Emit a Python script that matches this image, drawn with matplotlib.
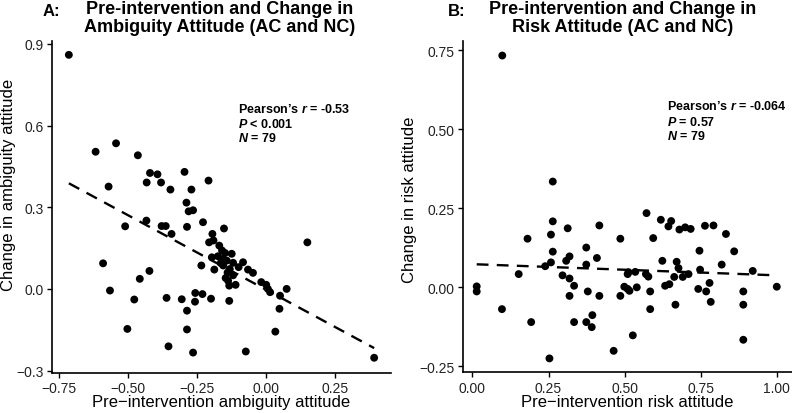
import numpy as np
import matplotlib
matplotlib.use("Agg")
import matplotlib.pyplot as plt
from matplotlib.ticker import FixedLocator, FuncFormatter

# ---------------- data ----------------
amb_pre = [-0.715, -0.618, -0.544, -0.465, -0.421, -0.394, -0.433, -0.381, -0.347, -0.296,
           -0.271, -0.209, -0.571, -0.289, -0.281, -0.265, -0.229, -0.195, -0.153, -0.511,
           -0.434, -0.379, -0.364, -0.343, -0.287, -0.207, -0.191, -0.170, -0.160, -0.149,
           -0.125, -0.197, -0.156, -0.143, -0.120, -0.084, -0.156, -0.132, -0.235, -0.188,
           -0.066, -0.048, -0.147, -0.138, -0.134, -0.111, -0.018, 0.000, 0.006, 0.014,
           0.074, 0.050, 0.048, 0.033, 0.149, 0.391, -0.591, -0.423, -0.458, -0.566,
           -0.478, -0.361, -0.306, -0.257, -0.231, -0.258, -0.200, -0.134, -0.287, -0.503,
           -0.287, -0.354, -0.265, -0.074, -0.175, -0.165, -0.140, -0.120, -0.100]
amb_change = [0.860, 0.504, 0.535, 0.491, 0.426, 0.421, 0.391, 0.391, 0.365, 0.430,
              0.365, 0.398, 0.376, 0.317, 0.285, 0.289, 0.245, 0.202, 0.222, 0.230,
              0.251, 0.231, 0.231, 0.202, 0.228, 0.171, 0.178, 0.159, 0.141, 0.132,
              0.129, 0.116, 0.110, 0.104, 0.096, 0.098, 0.086, 0.073, 0.086, 0.071,
              0.071, 0.059, 0.040, 0.030, 0.012, 0.015, 0.025, 0.015, 0.000, -0.012,
              0.000, -0.025, -0.073, -0.157, 0.171, -0.253, 0.094, 0.066, 0.037, -0.006,
              -0.039, -0.033, -0.038, -0.015, -0.019, -0.047, -0.036, -0.044, -0.080, -0.147,
              -0.149, -0.211, -0.234, -0.230, 0.120, 0.095, 0.060, 0.050, 0.080]

risk_pre = [0.098, 0.264, 0.264, 0.258, 0.313, 0.417, 0.181, 0.486, 0.374, 0.264,
            0.409, 0.319, 0.308, 0.258, 0.239, 0.374, 0.152, 0.296, 0.319, 0.334,
            0.014, 0.014, 0.510, 0.499, 0.510, 0.379, 0.319, 0.417, 0.486, 0.097,
            0.193, 0.334, 0.374, 0.394, 0.392, 0.464, 0.253, 0.572, 0.619, 0.653,
            0.644, 0.680, 0.699, 0.717, 0.764, 0.792, 0.833, 0.594, 0.746, 0.860,
            0.624, 0.671, 0.677, 0.819, 0.748, 0.921, 0.513, 0.535, 0.570, 0.578,
            0.663, 0.691, 0.710, 0.633, 0.647, 0.516, 0.540, 0.584, 0.742, 0.768,
            0.779, 0.890, 1.000, 0.667, 0.584, 0.783, 0.890, 0.527, 0.890]
risk_change = [0.734, 0.335, 0.209, 0.167, 0.187, 0.196, 0.154, 0.154, 0.126, 0.113,
               0.093, 0.098, 0.084, 0.079, 0.067, 0.072, 0.042, 0.038, 0.028, 0.005,
               0.003, -0.013, 0.042, 0.002, -0.005, -0.013, -0.027, -0.027, -0.027, -0.069,
               -0.110, -0.110, -0.110, -0.088, -0.126, -0.201, -0.225, 0.235, 0.214, 0.210,
               0.193, 0.183, 0.190, 0.185, 0.195, 0.196, 0.169, 0.156, 0.116, 0.114,
               0.084, 0.081, 0.061, 0.072, 0.056, 0.052, 0.048, 0.049, 0.042, 0.034,
               0.033, 0.033, 0.042, 0.005, 0.010, -0.011, 0.000, -0.013, -0.005, -0.013,
               0.014, -0.013, 0.002, -0.055, -0.069, -0.046, -0.055, -0.152, -0.166]

amb_xticks = [-0.75, -0.50, -0.25, 0.00, 0.25]
amb_yticks = [-0.3, 0.0, 0.3, 0.6, 0.9]
risk_xticks = [0.00, 0.25, 0.50, 0.75, 1.00]
risk_yticks = [-0.25, 0.00, 0.25, 0.50, 0.75]

# ---------------- style ----------------
plt.rcParams['font.family'] = ['Liberation Sans', 'DejaVu Sans']
plt.rcParams['mathtext.fontset'] = 'custom'
plt.rcParams['mathtext.rm'] = 'Liberation Sans:bold'
plt.rcParams['mathtext.bf'] = 'Liberation Sans:bold'
plt.rcParams['mathtext.it'] = 'Liberation Sans:bold:italic'
plt.rcParams['mathtext.bfit'] = 'Liberation Sans:bold:italic'

W, H = 792, 414
fig = plt.figure(figsize=(W / 100, H / 100), dpi=100)


def px_axes(x0, y0, x1, y1):
    return fig.add_axes([x0 / W, 1 - y1 / H, (x1 - x0) / W, (y1 - y0) / H])


def fmt(dec):
    def f(v, pos):
        s = f"{v:.{dec}f}"
        return s.replace("-", "\u2212")
    return FuncFormatter(f)


def style(ax, xt, yt, xdec, ydec):
    for s in ['top', 'right']:
        ax.spines[s].set_visible(False)
    for s in ['left', 'bottom']:
        ax.spines[s].set_linewidth(1.2)
        ax.spines[s].set_color('black')
    ax.xaxis.set_major_locator(FixedLocator(xt))
    ax.yaxis.set_major_locator(FixedLocator(yt))
    ax.xaxis.set_major_formatter(fmt(xdec))
    ax.yaxis.set_major_formatter(fmt(ydec))
    ax.tick_params(length=3.5, width=1.0, color='black', labelsize=10,
                   labelcolor='#222222', pad=2.5)


def fit_line(ax, x, y):
    x = np.asarray(x)
    y = np.asarray(y)
    b, a = np.polyfit(x, y, 1)
    xs = np.array([x.min(), x.max()])
    ax.plot(xs, a + b * xs, color='black', lw=1.7, dashes=(5, 3.5), zorder=2)


# ---- Panel A ----
ax1 = px_axes(52, 41.7, 391, 374)
ax1.scatter(amb_pre, amb_change, s=32, color='black', edgecolors='none', zorder=3)
fit_line(ax1, amb_pre, amb_change)
ax1.set_xlim(-0.776, 0.452)
ax1.set_ylim(-0.309, 0.912)
style(ax1, amb_xticks, amb_yticks, 2, 1)

# ---- Panel B ----
ax2 = px_axes(462.7, 41.7, 792, 373.3)
ax2.scatter(risk_pre, risk_change, s=32, color='black', edgecolors='none', zorder=3)
fit_line(ax2, risk_pre, risk_change)
ax2.set_xlim(-0.032, 1.05)
ax2.set_ylim(-0.269, 0.781)
style(ax2, risk_xticks, risk_yticks, 2, 2)

# ---- titles ----
fig.text(51.5 / W, 1 - 11 / H, "A:", fontsize=12, fontweight='bold', ha='center', va='center')
fig.text(220 / W, 1 - 18.5 / H, "Pre-intervention and Change in\nAmbiguity Attitude (AC and NC)",
         fontsize=13, fontweight='bold', ha='center', va='center', linespacing=1.0)
fig.text(457 / W, 1 - 11 / H, "B:", fontsize=12, fontweight='bold', ha='center', va='center')
fig.text(623 / W, 1 - 18.5 / H, "Pre-intervention and Change in\nRisk Attitude (AC and NC)",
         fontsize=13, fontweight='bold', ha='center', va='center', linespacing=1.0)

# ---- axis labels ----
fig.text(221 / W, 1 - 403 / H, "Pre\u2212intervention ambiguity attitude", fontsize=12,
         ha='center', va='center')
fig.text(627 / W, 1 - 403 / H, "Pre\u2212intervention risk attitude", fontsize=12,
         ha='center', va='center')
fig.text(9 / W, 1 - 185 / H, "Change in ambiguity attitude", fontsize=12,
         ha='center', va='center', rotation=90)
fig.text(410 / W, 1 - 200 / H, "Change in risk attitude", fontsize=12,
         ha='center', va='center', rotation=90)

# ---- stats annotations ----
def stats(x, ys, lines):
    for y, t in zip(ys, lines):
        fig.text(x / W, 1 - y / H, t, fontsize=9, fontweight='bold', ha='left', va='center')

stats(237.7, [109.3, 124, 138.7],
      ["Pearson\u2019s $\\mathit{r}$ = -0.53", "$\\mathit{P}$ < 0.001", "$\\mathit{N}$ = 79"])
stats(666.7, [106.7, 122, 136.7],
      ["Pearson\u2019s $\\mathit{r}$ = -0.064", "$\\mathit{P}$ = 0.57", "$\\mathit{N}$ = 79"])

fig.savefig("out.png", dpi=100)
